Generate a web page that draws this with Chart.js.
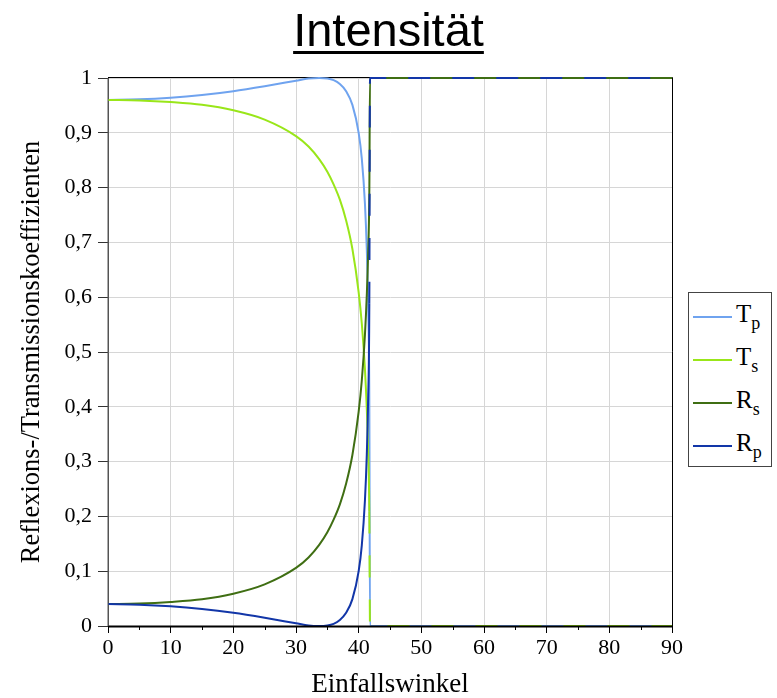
<!DOCTYPE html>
<html>
<head>
<meta charset="utf-8">
<script src="https://cdn.jsdelivr.net/npm/chart.js@4"></script>
<style>
  body { margin: 0; background: #fff; }
  #wrap { position: relative; width: 777px; height: 698px; }
  #title {
    position: absolute; left: 0; top: 2px; width: 777px; text-align: center;
    font: 47px "Liberation Sans", Arial, sans-serif; text-decoration: underline;
    text-decoration-thickness: 3px; text-underline-offset: 5px; color: #000;
  }
  #legend {
    position: absolute; left: 688px; top: 292px; width: 84px; height: 175px;
    border: 1px solid #444; box-sizing: border-box; background: #fff;
  }
  .item { position: absolute; left: 0; height: 30px; width: 84px; }
  .item .swatch { position: absolute; left: 4px; top: 14px; width: 39px; height: 2px; }
  .item .lbl {
    position: absolute; left: 47px; top: -2px; font: 25px "Liberation Serif", serif; line-height: 28px;
  }
  .item sub { font-size: 18px; vertical-align: -7px; }
</style>
</head>
<body>
<div id="wrap">
  <canvas id="chart" width="777" height="698"></canvas>
  <div id="title">Intensität</div>
  <div id="legend"></div>
</div>
<script>
// angle of incidence (degrees)
const angles = [0, 5, 10, 15, 20, 25, 30, 32, 33.7, 35, 36, 37, 38, 39, 40, 40.5, 41, 41.3, 41.5, 41.7, 41.81, 42, 50, 60, 70, 80, 90];

// coefficients
const Tp = [0.960, 0.961, 0.964, 0.969, 0.976, 0.985, 0.995, 0.999, 1, 0.999, 0.996, 0.989, 0.976, 0.951, 0.900, 0.853, 0.771, 0.686, 0.592, 0.412, 0, 0, 0, 0, 0, 0, 0];
const Ts = [0.960, 0.959, 0.956, 0.951, 0.941, 0.924, 0.894, 0.875, 0.852, 0.829, 0.806, 0.778, 0.740, 0.688, 0.609, 0.552, 0.469, 0.395, 0.325, 0.209, 0, 0, 0, 0, 0, 0, 0];
const Rs = [0.040, 0.041, 0.044, 0.049, 0.059, 0.076, 0.106, 0.125, 0.148, 0.171, 0.194, 0.222, 0.260, 0.312, 0.391, 0.448, 0.531, 0.605, 0.675, 0.791, 1, 1, 1, 1, 1, 1, 1];
const Rp = [0.040, 0.039, 0.036, 0.031, 0.024, 0.015, 0.005, 0.001, 0, 0.001, 0.004, 0.011, 0.024, 0.049, 0.100, 0.147, 0.229, 0.314, 0.408, 0.588, 1, 1, 1, 1, 1, 1, 1];

const seriesNames = ["Tp", "Ts", "Rs", "Rp"];
const seriesColors = ["#6fa3ef", "#99e619", "#3f6e13", "#1236a8"];

const xTicks = [0, 10, 20, 30, 40, 50, 60, 70, 80, 90];
const yTickLabels = ["0", "0,1", "0,2", "0,3", "0,4", "0,5", "0,6", "0,7", "0,8", "0,9", "1"];

const serif = "'Liberation Serif', 'Times New Roman', serif";

function pts(values) {
  return angles.map((a, i) => ({ x: a, y: values[i] }));
}

// dashed look where two curves lie on top of each other
const overlapDash = {
  borderDash: (ctx) => (ctx.p0.parsed.x >= 41.7 ? [22, 22] : undefined),
};

// legend (html, because of the subscripts)
const legend = document.getElementById("legend");
seriesNames.forEach((name, i) => {
  const item = document.createElement("div");
  item.className = "item";
  item.style.top = 9 + i * 43 + "px";
  item.innerHTML =
    '<div class="swatch" style="background:' + seriesColors[i] + '"></div>' +
    '<div class="lbl">' + name[0] + "<sub>" + name.slice(1) + "</sub></div>";
  legend.appendChild(item);
});

// frame: top/right below the curves, bottom/left above them
const framePlugin = {
  id: "frame",
  beforeDatasetsDraw(chart) {
    const { ctx, chartArea: a } = chart;
    ctx.save();
    ctx.strokeStyle = "#000";
    ctx.lineWidth = 1;
    ctx.beginPath();
    ctx.moveTo(a.left, a.top - 0.5);
    ctx.lineTo(a.right + 0.5, a.top - 0.5);
    ctx.lineTo(a.right + 0.5, a.bottom);
    ctx.stroke();
    ctx.restore();
  },
  afterDatasetsDraw(chart) {
    const { ctx, chartArea: a } = chart;
    const xs = chart.scales.x;
    ctx.save();
    ctx.strokeStyle = "#000";
    ctx.lineWidth = 2;
    ctx.beginPath();
    ctx.moveTo(a.left, a.bottom + 0.5);
    ctx.lineTo(a.right + 1, a.bottom + 0.5);
    ctx.stroke();
    // minor ticks
    ctx.lineWidth = 1;
    for (let v = 5; v < 90; v += 10) {
      const px = Math.round(xs.getPixelForValue(v)) + 0.5;
      ctx.beginPath();
      ctx.moveTo(px, a.bottom);
      ctx.lineTo(px, a.bottom + 4);
      ctx.stroke();
    }
    ctx.strokeStyle = "#555";
    ctx.beginPath();
    ctx.moveTo(a.left, a.top);
    ctx.lineTo(a.left, a.bottom);
    ctx.stroke();
    ctx.restore();
  },
};

new Chart(document.getElementById("chart"), {
  type: "line",
  data: {
    datasets: [
      { label: seriesNames[0], data: pts(Tp), borderColor: seriesColors[0], order: 4 },
      { label: seriesNames[1], data: pts(Ts), borderColor: seriesColors[1], order: 3, segment: overlapDash },
      { label: seriesNames[2], data: pts(Rs), borderColor: seriesColors[2], order: 2 },
      { label: seriesNames[3], data: pts(Rp), borderColor: seriesColors[3], order: 1, segment: overlapDash },
    ],
  },
  options: {
    responsive: false,
    animation: false,
    layout: { padding: { top: 78, right: 105, left: 0, bottom: 0 } },
    datasets: { line: { clip: 4 } },
    elements: {
      point: { radius: 0 },
      line: { borderWidth: 2, cubicInterpolationMode: "monotone", fill: false },
    },
    plugins: { legend: { display: false }, title: { display: false }, tooltip: { enabled: false } },
    scales: {
      x: {
        type: "linear",
        min: 0,
        max: 90,
        afterBuildTicks: (scale) => {
          scale.ticks = xTicks.map((v) => ({ value: v }));
        },
        afterFit: (scale) => {
          scale.height = 72;
        },
        ticks: {
          color: "#000",
          font: { family: serif, size: 22 },
          padding: 2,
          maxRotation: 0,
          autoSkip: false,
        },
        grid: { color: "#d6d6d6", tickColor: "#000", tickLength: 7 },
        border: { color: "#000" },
        title: {
          display: true,
          text: "Einfallswinkel",
          color: "#000",
          font: { family: serif, size: 27, lineHeight: 1 },
          padding: { top: 0, bottom: 0 },
        },
      },
      y: {
        min: 0,
        max: 1,
        ticks: {
          stepSize: 0.1,
          color: "#000",
          font: { family: serif, size: 22 },
          padding: 6,
          callback: (v, i) => yTickLabels[i],
        },
        afterFit: (scale) => {
          scale.width = 108;
        },
        grid: { color: "#d6d6d6", tickColor: "#333", tickLength: 10 },
        border: { color: "#555" },
        title: {
          display: true,
          text: "Reflexions-/Transmissionskoeffizienten",
          color: "#000",
          font: { family: serif, size: 26.5, lineHeight: 1 },
          padding: { top: 19, bottom: 0 },
        },
      },
    },
  },
  plugins: [framePlugin],
});
</script>
</body>
</html>
